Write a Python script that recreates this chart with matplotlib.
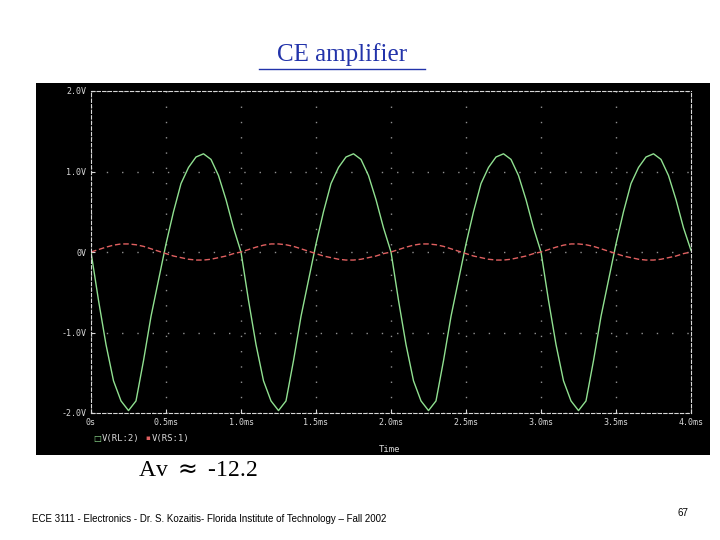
import matplotlib.pyplot as plt
import numpy as np

# time axis in ms
t = np.arange(0, 4.0001, 0.05)

# V(RL:2), one cycle, repeated for the 4 cycles shown
green_cycle = [0.0, -0.6, -1.15, -1.6, -1.85, -1.97, -1.85, -1.35, -0.8, -0.35,
               0.1, 0.5, 0.85, 1.05, 1.18, 1.22, 1.15, 0.95, 0.65, 0.3]
red_cycle = [0.0, 0.03, 0.06, 0.085, 0.1, 0.1, 0.09, 0.07, 0.04, 0.01,
             -0.02, -0.05, -0.07, -0.09, -0.1, -0.1, -0.09, -0.07, -0.05, -0.02]
v_rl = green_cycle * 4 + [0.02]
v_rs = red_cycle * 4 + [0.0]

yticks = [-2, -1, 0, 1, 2]
ylabels = ['-2.0V', '-1.0V', '0V', '1.0V', '2.0V']
xticks = [0, 0.5, 1, 1.5, 2, 2.5, 3, 3.5, 4]
xlabels = ['0s', '0.5ms', '1.0ms', '1.5ms', '2.0ms', '2.5ms', '3.0ms', '3.5ms', '4.0ms']

fig = plt.figure(figsize=(7.2, 5.4), dpi=100)

# black background panel of the screenshot
panel = fig.add_axes([36/720, 85/540, 674/720, 372/540])
panel.set_facecolor('black')
panel.set_xticks([])
panel.set_yticks([])
for s in panel.spines.values():
    s.set_visible(False)

ax = fig.add_axes([91/720, 127/540, 600/720, 322/540])
ax.set_facecolor('black')
ax.plot(t, v_rl, color='#90e090', lw=1)
ax.plot(t, v_rs, color='#e06060', lw=1, ls=(0, (4, 2)))
ax.set_xlim(0, 4)
ax.set_ylim(-2, 2)
ax.set_xticks(xticks)
ax.set_xticklabels(xlabels)
ax.set_yticks(yticks)
ax.set_yticklabels(ylabels)
ax.tick_params(colors='#d8d8d8', labelsize=6, length=3, direction='in')
for lab in ax.get_xticklabels() + ax.get_yticklabels():
    lab.set_family('DejaVu Sans Mono')
ax.grid(True, color='#909090', ls=(0, (1, 10)), lw=1)
for s in ax.spines.values():
    s.set_color('#d8d8d8')
    s.set_linestyle((0, (3, 2)))
    s.set_linewidth(0.8)

fig.text(93/720, 1 - 438/540, '\u25a1', color='#90e090', fontsize=6, va='center')
fig.text(102/720, 1 - 438/540, 'V(RL:2)', color='#d8d8d8', fontsize=6.5,
         family='DejaVu Sans Mono', va='center')
fig.text(145/720, 1 - 438/540, '\u25aa', color='#e06060', fontsize=5, va='center')
fig.text(152/720, 1 - 438/540, 'V(RS:1)', color='#d8d8d8', fontsize=6.5,
         family='DejaVu Sans Mono', va='center')
fig.text(390/720, 1 - 450/540, 'Time', color='#d8d8d8', fontsize=6.5,
         family='DejaVu Sans Mono', ha='center', va='center')

fig.text(342/720, 1 - 55/540, 'CE amplifier', color='#2233aa', fontsize=18,
         family='Liberation Serif', ha='center', va='center')
fig.add_artist(plt.Line2D([259/720, 425/720], [1 - 69/540, 1 - 69/540],
                          color='#2233aa', lw=1))
fig.text(138/720, 1 - 470/540, r'Av $\approx$ -12.2', fontsize=17,
         family='Liberation Serif', va='center')
fig.text(32/720, 1 - 519/540,
         'ECE 3111 - Electronics - Dr. S. Kozaitis- Florida Institute of Technology \u2013 Fall 2002',
         fontsize=7, family='Liberation Sans', va='center')
fig.text(688/720, 1 - 513/540, '67', fontsize=7, family='Liberation Sans',
         ha='right', va='center')

fig.savefig('out.png', dpi=100)
